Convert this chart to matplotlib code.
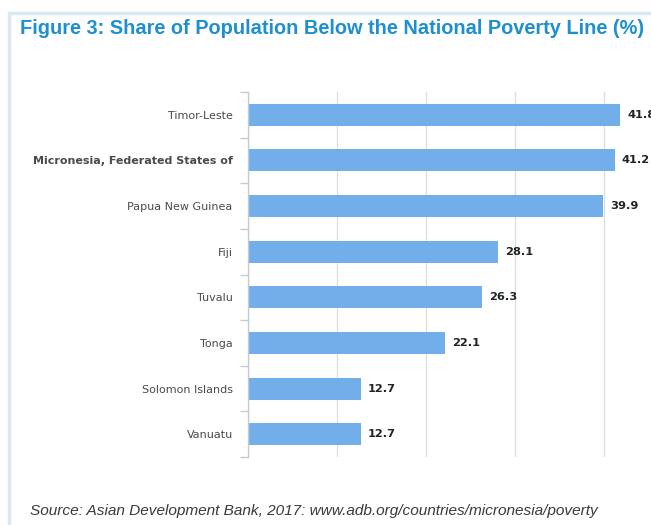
import matplotlib.pyplot as plt
from matplotlib.patches import Rectangle

# Daten
countries = ['Timor-Leste', 'Micronesia, Federated States of', 'Papua New Guinea',
             'Fiji', 'Tuvalu', 'Tonga', 'Solomon Islands', 'Vanuatu']
poverty = [41.8, 41.2, 39.9, 28.1, 26.3, 22.1, 12.7, 12.7]
x_ticks = [0, 10, 20, 30, 40, 50]

W, H = 651, 525
fig = plt.figure(figsize=(W / 100, H / 100), dpi=100)
fig.patch.set_facecolor('white')

# Rahmen mit leichtem Schatten
fig.patches.append(Rectangle((9 / W, -0.1), 1.2, 1 - 13 / H + 0.1, transform=fig.transFigure,
                             facecolor='none', edgecolor='#dae8ef', linewidth=2.5, zorder=0))

fig.text(20 / W, 1 - 28 / H, 'Figure 3: Share of Population Below the National Poverty Line (%)',
         color='#1e8fcf', fontsize=14.4, fontweight='bold', family='Liberation Sans',
         va='center', ha='left')

# Achsen: x=0 bei 248 px, 10 Einheiten = 89 px, xlim 0..50
left = 248 / W
width = 445 / W
top = 92
bottom = 457
ax = fig.add_axes([left, 1 - bottom / H, width, (bottom - top) / H])
ax.set_facecolor('none')
ax.set_zorder(3)

y = list(range(len(countries)))
ax.barh(y, poverty, height=0.48, color='#72aeea', zorder=2)
ax.set_ylim(len(countries) - 0.5, -0.5)
ax.set_xlim(0, 50)

for yi, v in zip(y, poverty):
    ax.text(v + 0.8, yi, f'{v}', va='center', ha='left', fontsize=8.2,
            fontweight='bold', color='#222222', family='DejaVu Sans', clip_on=False)

ax.set_xticks(x_ticks)
ax.set_xticklabels([])
ax.tick_params(axis='x', length=0)
ax.grid(axis='x', color='#dcdcdc', linewidth=0.9, zorder=0)

# Kategorie-Trennstriche links
ax.set_yticks([i - 0.5 for i in range(len(countries) + 1)], minor=False)
ax.set_yticklabels([])
ax.tick_params(axis='y', length=6, color='#c4c9d2', width=1, direction='out')
ax.set_yticks(y, minor=True)
ax.set_yticklabels(countries, minor=True)
ax.tick_params(axis='y', which='minor', length=0, pad=11, labelsize=8.0, labelcolor='#4a4a4a')
for lbl in ax.get_yticklabels(minor=True):
    lbl.set_family('DejaVu Sans')
    if lbl.get_text().startswith('Micronesia'):
        lbl.set_fontweight('bold')

for s in ['top', 'right', 'bottom']:
    ax.spines[s].set_visible(False)
ax.spines['left'].set_color('#c4c9d2')
ax.spines['left'].set_linewidth(1)

fig.text(30 / W, 1 - 511 / H,
         'Source: Asian Development Bank, 2017: www.adb.org/countries/micronesia/poverty',
         fontsize=11.1, style='italic', color='#3a3a3a', family='Liberation Sans',
         va='center', ha='left')

fig.savefig('out.png', dpi=100)
